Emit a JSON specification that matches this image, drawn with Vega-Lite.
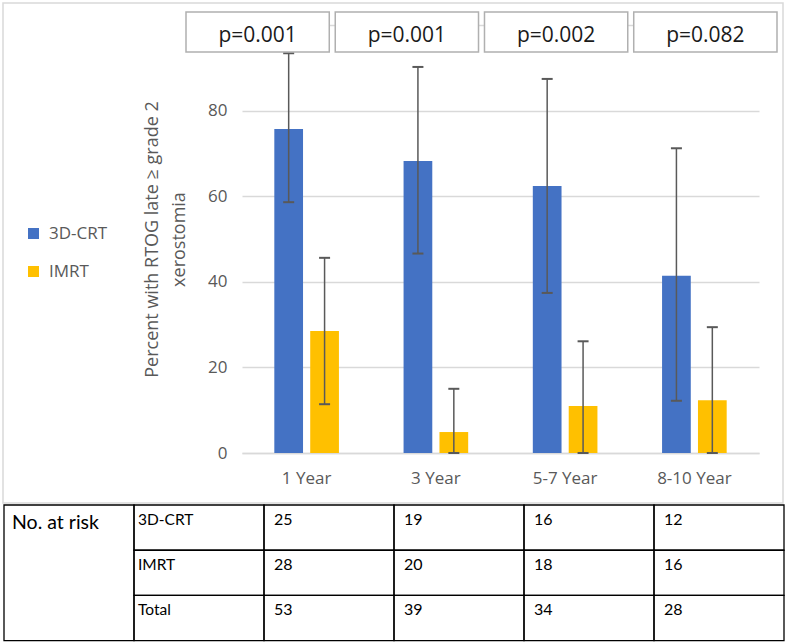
{
  "$schema": "https://vega.github.io/schema/vega-lite/v6.json",
  "width": 517,
  "height": 428,
  "autosize": {"type": "none"},
  "padding": {"left": 242, "top": 25, "right": 28, "bottom": 191},
  "background": "white",
  "config": {
    "view": {"stroke": null},
    "font": "Open Sans",
    "legend": {"labelFont": "Open Sans"}
  },
  "datasets": {
    "bars": [
      {"Year": "1 Year", "group": "3D-CRT", "pct": 75.7, "lo": 58.6, "hi": 93.4},
      {"Year": "1 Year", "group": "IMRT", "pct": 28.5, "lo": 11.4, "hi": 45.6},
      {"Year": "3 Year", "group": "3D-CRT", "pct": 68.2, "lo": 46.6, "hi": 90.2},
      {"Year": "3 Year", "group": "IMRT", "pct": 4.9, "lo": 0, "hi": 15.0},
      {"Year": "5-7 Year", "group": "3D-CRT", "pct": 62.4, "lo": 37.4, "hi": 87.4},
      {"Year": "5-7 Year", "group": "IMRT", "pct": 11.0, "lo": 0, "hi": 26.1},
      {"Year": "8-10 Year", "group": "3D-CRT", "pct": 41.4, "lo": 12.2, "hi": 71.2},
      {"Year": "8-10 Year", "group": "IMRT", "pct": 12.3, "lo": 0, "hi": 29.4}
    ],
    "pvals": [
      {"Year": "1 Year", "p": "p=0.001"},
      {"Year": "3 Year", "p": "p=0.001"},
      {"Year": "5-7 Year", "p": "p=0.002"},
      {"Year": "8-10 Year", "p": "p=0.082"}
    ],
    "risk": [
      {"group": "3D-CRT", "Year": "1 Year", "n": 25},
      {"group": "3D-CRT", "Year": "3 Year", "n": 19},
      {"group": "3D-CRT", "Year": "5-7 Year", "n": 16},
      {"group": "3D-CRT", "Year": "8-10 Year", "n": 12},
      {"group": "IMRT", "Year": "1 Year", "n": 28},
      {"group": "IMRT", "Year": "3 Year", "n": 20},
      {"group": "IMRT", "Year": "5-7 Year", "n": 18},
      {"group": "IMRT", "Year": "8-10 Year", "n": 16},
      {"group": "Total", "Year": "1 Year", "n": 53},
      {"group": "Total", "Year": "3 Year", "n": 39},
      {"group": "Total", "Year": "5-7 Year", "n": 34},
      {"group": "Total", "Year": "8-10 Year", "n": 28}
    ],
    "groups": [
      {"group": "3D-CRT"},
      {"group": "IMRT"},
      {"group": "Total"}
    ]
  },
  "layer": [
    {
      "data": {"values": [{"area": "chart"}]},
      "mark": {"type": "rect", "fillOpacity": 0, "stroke": "#d9d9d9", "strokeWidth": 1.5},
      "encoding": {
        "x": {"datum": "chart", "type": "nominal", "axis": null, "scale": {"domain": ["chart"], "range": [-239, 541], "paddingInner": 0, "paddingOuter": 0}},
        "y": {"datum": "chart", "type": "nominal", "axis": null, "scale": {"domain": ["chart"], "range": [-22, 478], "paddingInner": 0, "paddingOuter": 0}}
      }
    },
    {
      "data": {"name": "bars"},
      "encoding": {
        "x": {
          "field": "Year", "type": "nominal", "sort": null,
          "scale": {"paddingInner": 0.5, "paddingOuter": 0.25},
          "axis": {"title": null, "labelAngle": 0, "ticks": false, "domainColor": "#d9d9d9", "domainWidth": 1.5, "labelFont": "Open Sans", "labelFontSize": 17, "labelColor": "#595959", "labelPadding": 17}
        },
        "xOffset": {"field": "group", "type": "nominal", "scale": {"paddingInner": 0.2, "paddingOuter": 0}}
      },
      "layer": [
        {
          "mark": {"type": "bar"},
          "encoding": {
            "y": {
              "field": "pct", "type": "quantitative",
              "scale": {"domain": [0, 100], "nice": false},
              "axis": {
                "values": [0, 20, 40, 60, 80, 100],
                "labelExpr": "datum.value == 100 ? '' : datum.label",
                "grid": true, "gridColor": "#d9d9d9", "gridWidth": 1.3,
                "domain": false, "ticks": false,
                "labelFont": "Open Sans", "labelFontSize": 17, "labelColor": "#595959", "labelPadding": 15,
                "title": ["Percent with RTOG late \u2265 grade 2", "xerostomia"],
                "titleFont": "Open Sans", "titleFontSize": 18, "titleFontWeight": "normal", "titleColor": "#595959",
                "titleLineHeight": 27, "titlePadding": 19
              }
            },
            "color": {
              "field": "group", "type": "nominal",
              "scale": {"domain": ["3D-CRT", "IMRT"], "range": ["#4472C4", "#FFC000"]},
              "legend": {
                "title": null, "orient": "none", "legendX": -217, "legendY": 200,
                "symbolType": "square", "symbolSize": 121, "symbolStrokeWidth": 0,
                "labelFontSize": 17, "labelColor": "#595959", "labelOffset": 7,
                "rowPadding": 20, "padding": 0
              }
            }
          }
        },
        {
          "mark": {"type": "rule", "color": "#595959", "strokeWidth": 1.5},
          "encoding": {
            "y": {"field": "lo", "type": "quantitative"},
            "y2": {"field": "hi"}
          }
        },
        {
          "mark": {"type": "tick", "color": "#595959", "thickness": 2, "size": 11, "opacity": 1},
          "encoding": {
            "y": {"field": "hi", "type": "quantitative"}
          }
        },
        {
          "mark": {"type": "tick", "color": "#595959", "thickness": 2, "size": 11, "opacity": 1},
          "encoding": {
            "y": {"field": "lo", "type": "quantitative"}
          }
        }
      ]
    },
    {
      "data": {"name": "pvals"},
      "encoding": {
        "x": {"field": "Year", "type": "nominal", "sort": null, "axis": null, "scale": {"range": [-56, 535], "paddingInner": 0.04, "paddingOuter": 0}},
        "y": {"datum": "p", "type": "nominal", "axis": null, "scale": {"domain": ["p"], "range": [-13, 27], "paddingInner": 0, "paddingOuter": 0}}
      },
      "layer": [
        {"mark": {"type": "rect", "fill": "white", "stroke": "#b0b0b0", "strokeWidth": 1.5}},
        {"mark": {"type": "text", "font": "Open Sans", "fontSize": 21, "color": "#1a1a1a", "dy": 4}, "encoding": {"text": {"field": "p"}}}
      ]
    },
    {
      "layer": [
        {
          "data": {"name": "risk"},
          "mark": {"type": "rect", "fillOpacity": 0, "stroke": "black", "strokeWidth": 1.3},
          "encoding": {
            "x": {"field": "Year", "type": "nominal", "axis": null, "scale": {"domain": ["No. at risk", "Group", "1 Year", "3 Year", "5-7 Year", "8-10 Year"], "range": [-238, 542], "paddingInner": 0, "paddingOuter": 0}},
            "y": {"field": "group", "type": "nominal", "axis": null, "scale": {"domain": ["3D-CRT", "IMRT", "Total"], "range": [480, 615.7], "paddingInner": 0, "paddingOuter": 0}}
          }
        },
        {
          "data": {"name": "groups"},
          "mark": {"type": "rect", "fillOpacity": 0, "stroke": "black", "strokeWidth": 1.3},
          "encoding": {
            "x": {"datum": "Group", "type": "nominal", "axis": null},
            "y": {"field": "group", "type": "nominal", "axis": null}
          }
        },
        {
          "data": {"name": "risk"},
          "mark": {"type": "text", "font": "Lato", "fontSize": 16, "color": "black", "align": "left", "dx": 10, "dy": -8},
          "encoding": {
            "x": {"field": "Year", "type": "nominal", "axis": null, "bandPosition": 0},
            "y": {"field": "group", "type": "nominal", "axis": null},
            "text": {"field": "n"}
          }
        },
        {
          "data": {"name": "groups"},
          "mark": {"type": "text", "font": "Lato", "fontSize": 15.5, "color": "black", "align": "left", "dx": 4, "dy": -8},
          "encoding": {
            "x": {"datum": "Group", "type": "nominal", "axis": null, "bandPosition": 0},
            "y": {"field": "group", "type": "nominal", "axis": null},
            "text": {"field": "group"}
          }
        },
        {
          "data": {"values": [{"label": "No. at risk"}]},
          "mark": {"type": "text", "font": "Lato", "fontSize": 19.5, "color": "black", "align": "left", "dx": 8, "dy": -5},
          "encoding": {
            "x": {"datum": "No. at risk", "type": "nominal", "axis": null, "bandPosition": 0},
            "y": {"datum": "3D-CRT", "type": "nominal", "axis": null},
            "text": {"field": "label"}
          }
        }
      ]
    },
    {
      "data": {"values": [{"label": "No. at risk"}]},
      "mark": {"type": "rect", "fillOpacity": 0, "stroke": "black", "strokeWidth": 1.3},
      "encoding": {
        "x": {"datum": "No. at risk", "type": "nominal", "axis": null, "scale": {"domain": ["No. at risk", "Group", "1 Year", "3 Year", "5-7 Year", "8-10 Year"], "range": [-238, 542], "paddingInner": 0, "paddingOuter": 0}},
        "y": {"datum": "No. at risk", "type": "nominal", "axis": null, "scale": {"domain": ["No. at risk"], "range": [480, 615.7], "paddingInner": 0, "paddingOuter": 0}}
      }
    }
  ],
  "resolve": {"scale": {"x": "independent", "y": "independent"}}
}
